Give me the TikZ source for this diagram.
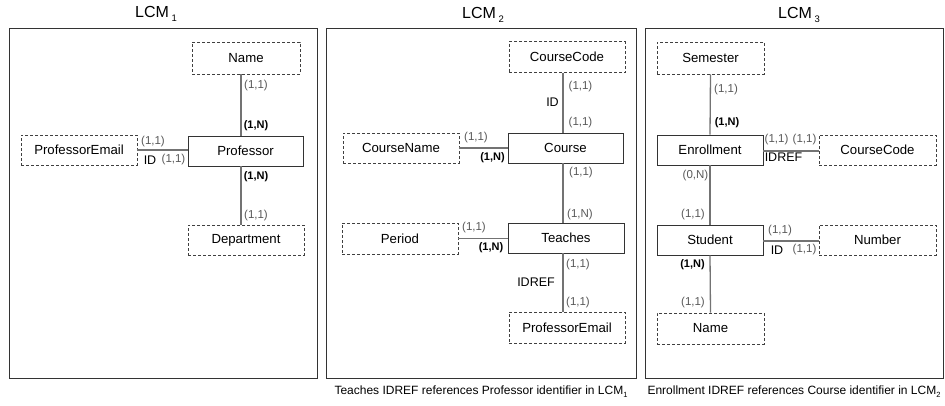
\documentclass[tikz,border=0pt]{standalone}
\usepackage{fontspec}
\setmainfont{Liberation Sans}
\begin{document}
\begin{tikzpicture}[x=1pt,y=-1pt,
  panel/.style={draw=black!80,line width=1pt},
  ent/.style={draw=black!80,line width=0.95pt,fill=white,inner sep=0pt,font=\fontsize{13.2}{15}\selectfont},
  attr/.style={draw=black!75,line width=0.95pt,dash pattern=on 3pt off 2pt,fill=white,inner sep=0pt,font=\fontsize{13.2}{15}\selectfont},
  lnk/.style={draw=black!55,line width=1.3pt},
  card/.style={inner sep=0pt,text=black!65,font=\fontsize{11.5}{13}\selectfont},
  cardb/.style={inner sep=0pt,text=black,font=\bfseries\fontsize{11}{13}\selectfont},
  lbl/.style={inner sep=0pt,text=black,font=\fontsize{12.5}{14}\selectfont},
  ttl/.style={inner sep=0pt,font=\fontsize{16}{18}\selectfont},
  capt/.style={inner sep=0pt,font=\fontsize{12}{14}\selectfont}]
\useasboundingbox[fill=white] (0,0) rectangle (945,405);

% panels
\draw[panel] (9,28) rectangle (317,378);
\draw[panel] (326,28) rectangle (636,378);
\draw[panel] (645,28) rectangle (943,378);

\node[ttl] (t1) at (156,14) {LCM\,\raisebox{-4pt}{\fontsize{9.5}{10}\selectfont 1}};
\node[ttl] (t2) at (483,15) {LCM\,\raisebox{-4pt}{\fontsize{9.5}{10}\selectfont 2}};
\node[ttl] (t3) at (799,15) {LCM\,\raisebox{-4pt}{\fontsize{9.5}{10}\selectfont 3}};

% ---------- LCM1 ----------
\coordinate (p1x) at (241,0);
\node[attr,minimum width=108,minimum height=32] (name1) at (246,58) {Name};
\node[ent,minimum width=115,minimum height=30] (prof) at (245.5,151) {Professor};
\node[attr,minimum width=116,minimum height=30] (pemail1) at (79,150) {ProfessorEmail};
\node[attr,minimum width=116,minimum height=30] (dept) at (246,240) {Department};
\draw[lnk] (name1.south -| p1x) -- (prof.north -| p1x);
\draw[lnk] (prof.south -| p1x) -- (dept.north -| p1x);
\draw[lnk] (pemail1.east) -- (prof.west |- pemail1.east);
\node[card] (c1a) at (256,86) {(1,1)};
\node[cardb] (c1b) at (256,126) {(1,N)};
\node[cardb] (c1c) at (256,177) {(1,N)};
\node[card] (c1d) at (256,216) {(1,1)};
\node[card] (c1e) at (153,142) {(1,1)};
\node[lbl] (id1) at (150,160) {ID};
\node[card] (c1f) at (173.5,160) {(1,1)};

% ---------- LCM2 ----------
\coordinate (p2x) at (563,0);
\node[attr,minimum width=116,minimum height=31] (ccode2) at (567,57) {CourseCode};
\node[ent,minimum width=115,minimum height=30] (course) at (565.5,148) {Course};
\node[attr,minimum width=116,minimum height=30] (cname) at (401,148) {CourseName};
\node[ent,minimum width=116,minimum height=30] (teach) at (566,238) {Teaches};
\node[attr,minimum width=116,minimum height=31] (period) at (400,238.5) {Period};
\node[attr,minimum width=116,minimum height=31] (pemail2) at (567,327.5) {ProfessorEmail};
\draw[lnk] (ccode2.south -| p2x) -- (course.north -| p2x);
\draw[lnk] (course.south -| p2x) -- (teach.north -| p2x);
\draw[lnk] (teach.south -| p2x) -- (pemail2.north -| p2x);
\draw[lnk] (cname.east) -- (course.west |- cname.east);
\draw[lnk] (period.east) -- (teach.west |- period.east);
\node[card] (c2a) at (580.5,87) {(1,1)};
\node[lbl] (id2) at (552.5,102) {ID};
\node[card] (c2b) at (580.5,123) {(1,1)};
\node[card] (c2c) at (476,138) {(1,1)};
\node[cardb] (c2d) at (492.5,158) {(1,N)};
\node[card] (c2e) at (581,173) {(1,1)};
\node[card] (c2f) at (580,214.5) {(1,N)};
\node[card] (c2g) at (474,228) {(1,1)};
\node[cardb] (c2h) at (491,248) {(1,N)};
\node[card] (c2i) at (578,265) {(1,1)};
\node[lbl] (idref2) at (536,282) {IDREF};
\node[card] (c2j) at (578,303) {(1,1)};
\node[capt] (cap2) at (481,392) {Teaches IDREF references Professor identifier in LCM\raisebox{-3pt}{\fontsize{7.5}{8}\selectfont 1}};

% ---------- LCM3 ----------
\node[attr,minimum width=107,minimum height=32] (sem) at (710.5,58) {Semester};
\node[ent,minimum width=106,minimum height=30] (enr) at (710,150) {Enrollment};
\node[attr,minimum width=117,minimum height=30] (ccode3) at (877.5,150) {CourseCode};
\node[ent,minimum width=106,minimum height=30] (stud) at (710,240) {Student};
\node[attr,minimum width=117,minimum height=30] (num) at (877.5,240) {Number};
\node[attr,minimum width=107,minimum height=31] (name3) at (710.5,328.5) {Name};
\draw[lnk] (sem.south) -- (enr.north);
\draw[lnk] (enr.south) -- (stud.north);
\draw[lnk] (stud.south) -- (name3.north);
\draw[lnk] ([yshift=-1pt]enr.east) -- ([yshift=-1pt]ccode3.west);
\draw[lnk] ([yshift=-1pt]stud.east) -- ([yshift=-1pt]num.west);
\node[card] (c3a) at (726,90) {(1,1)};
\node[cardb] (c3b) at (727,123) {(1,N)};
\node[card] (c3c) at (776.5,140) {(1,1)};
\node[card] (c3d) at (804.5,140) {(1,1)};
\node[lbl] (idref3) at (783.5,157.5) {IDREF};
\node[card] (c3e) at (695.5,176) {(0,N)};
\node[card] (c3f) at (693,214.5) {(1,1)};
\node[card] (c3g) at (780,231) {(1,1)};
\node[lbl] (id3) at (777,250) {ID};
\node[card] (c3h) at (804.5,250) {(1,1)};
\node[cardb] (c3i) at (692.5,265) {(1,N)};
\node[card] (c3j) at (693,303) {(1,1)};
\node[capt] (cap3) at (794,392) {Enrollment IDREF references Course identifier in LCM\raisebox{-3pt}{\fontsize{7.5}{8}\selectfont 2}};
\end{tikzpicture}
\end{document}
